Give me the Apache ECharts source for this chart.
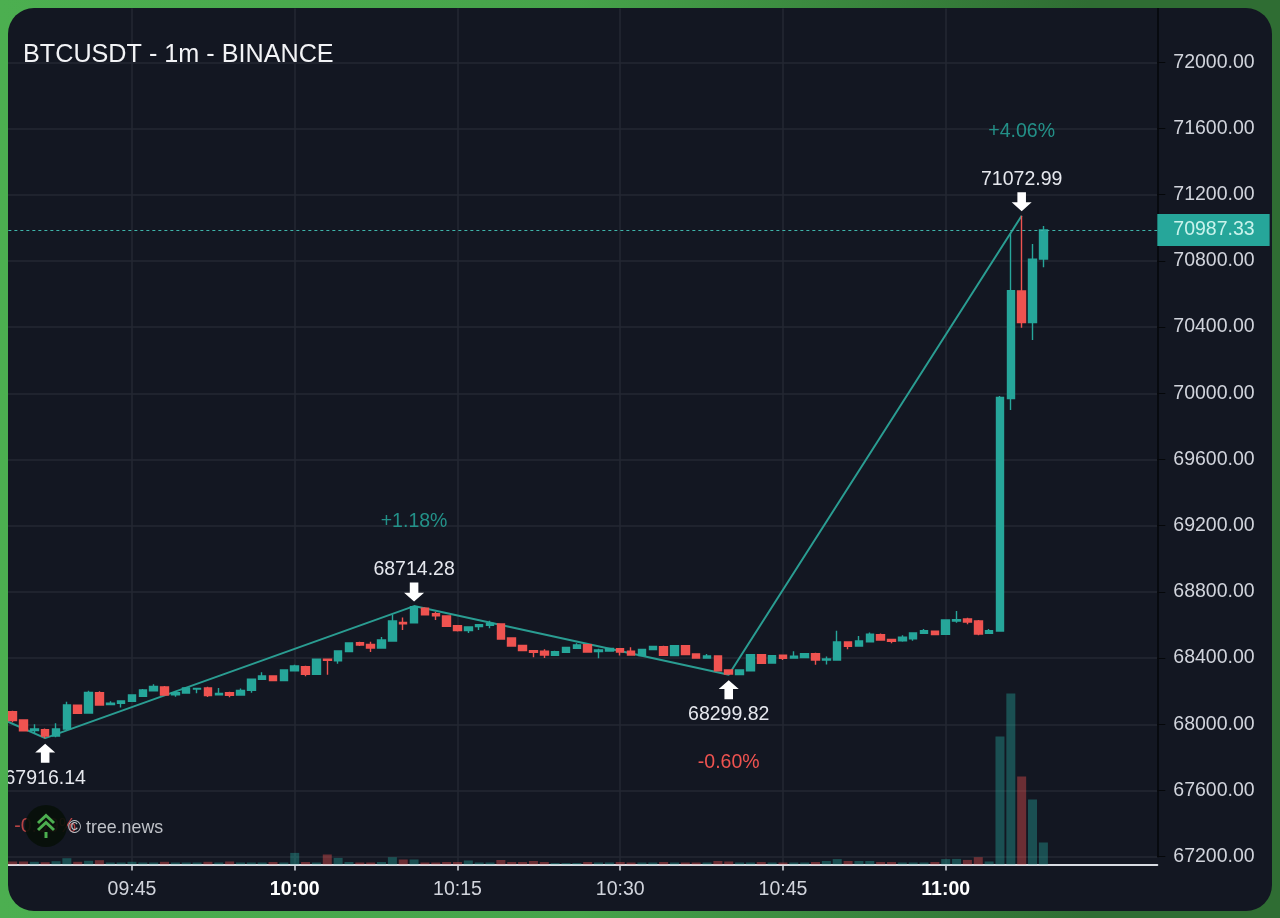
<!DOCTYPE html>
<html><head><meta charset="utf-8">
<style>
html,body{margin:0;padding:0;width:1280px;height:918px;overflow:hidden;background:linear-gradient(90deg,#4caf50 0%,#46a34a 45%,#2f6d33 85%,#2f6d33 100%);}
#card{position:absolute;left:7.5px;top:7.5px;width:1264.5px;height:903px;border-radius:26px;overflow:hidden;background:#131722;}
#main{position:absolute;left:-7.5px;top:-7.5px;width:1280px;height:918px;}
</style>
<script src="https://cdn.jsdelivr.net/npm/echarts@6/dist/echarts.min.js"></script>
</head><body>
<div id="card"><div id="main"></div></div>
<script>
const titleText = 'BTCUSDT - 1m - BINANCE';
const lastPrice = 70987.33;
const firstMinute = 9*60+33;
const lastGridMinute = 11*60;
const slotCount = 107;
const yMin = 67200, yMax = 72400, yStep = 400;

// 09:34 onward, one entry per minute
const opens = [68076,68026,67962,67968,67929,67972,68115,68068,68191,68119,68127,68139,68169,68203,68225,68179,68189,68213,68219,68179,68191,68177,68205,68272,68292,68264,68324,68348,68302,68393,68383,68439,68493,68483,68461,68503,68616,68614,
68701,68668,68654,68596,68566,68590,68598,68606,68521,68477,68445,68441,68417,68435,68459,68481,68439,68443,68457,68441,68415,68451,68469,68415,68475,68425,68401,68413,68328,68300,68324,68421,68370,68417,68401,68403,68427,68388,68388,68497,68473,68499,68542,68513,68505,68517,68550,68562,68544,68624,68636,68624,68550,68564,69969,70618,70427,70811];
const closes = [68022,67960,67972,67929,67972,68117,68066,68193,68117,68127,68141,68177,68207,68228,68177,68191,68219,68217,68173,68187,68175,68205,68272,68292,68264,68328,68352,68302,68393,68387,68443,68491,68479,68461,68509,68624,68608,68711,
68662,68656,68592,68566,68588,68602,68610,68515,68473,68445,68435,68419,68439,68465,68479,68437,68449,68459,68437,68419,68453,68471,68417,68475,68421,68401,68413,68324,68304,68328,68421,68368,68415,68399,68411,68427,68388,68395,68497,68471,68503,68544,68509,68501,68527,68552,68566,68542,68630,68632,68618,68546,68566,69975,70620,70427,70811,70987.33];
const lows = [68012,67956,67946,67916.14,67921,67966,68064,68066,68115,68115,68101,68135,68165,68201,68173,68167,68187,68187,68165,68177,68163,68175,68191,68270,68260,68262,68322,68290,68300,68300,68366,68437,68473,68437,68459,68501,68570,68612,
68658,68630,68590,68560,68552,68570,68580,68513,68471,68441,68405,68401,68415,68433,68457,68435,68399,68441,68415,68417,68413,68449,68415,68413,68417,68399,68399,68322,68299.82,68298,68322,68366,68368,68388,68397,68401,68360,68362,68386,68453,68471,68495,68507,68489,68499,68505,68548,68538,68542,68614,68604,68538,68548,68560,69899,70396,70322,70761];
const highs = [68082,68030,68000,67974,68006,68137,68117,68203,68199,68139,68143,68181,68213,68242,68232,68199,68225,68217,68227,68219,68197,68217,68274,68314,68296,68330,68360,68354,68395,68395,68447,68493,68499,68499,68528,68663,68646,68714.28,
68707,68680,68658,68600,68590,68604,68626,68610,68523,68479,68449,68453,68445,68469,68489,68485,68457,68461,68461,68465,68455,68473,68475,68477,68479,68429,68425,68415,68332,68330,68423,68425,68417,68421,68441,68429,68433,68409,68566,68501,68533,68554,68548,68515,68538,68556,68576,68564,68634,68685,68644,68630,68576,69983,70966,71072.99,70902,71011];
const volumes = [3,3,2.7,2.3,3.3,6.3,2.7,3.7,4.3,2,2,2.7,2,2,2.7,2,2,2,2.7,2,3,2,2,2,2.5,2,11.6,2.5,2,10,6.6,2.5,2,2,2.5,7.3,5,5,
2,2,2.5,2.5,4,2,2,4.5,2.5,2.5,3.5,2.5,1.5,1.5,1.5,2.5,2,2,2.5,2,2,2,2.5,2,2,2,2,3.5,3,2,2,2.5,2,2,2,2,2.5,3.5,5.4,3.5,3.5,3.5,2.5,2.5,2,2,2,2.5,5.4,5.6,4.6,7.3,3,128,171,88,65,22];

const pivotTimes = ['09:37','10:11','10:40','11:07'];
const pivotPrices = [67916.14,68714.28,68299.82,71072.99];
const pivotPct = ['-0.99%','+1.18%','-0.60%','+4.06%'];
const zigzagTimes = ['09:33','09:37','10:11','10:40','11:07'];
const zigzagPrices = [68032,67916.14,68714.28,68299.82,71072.99];

const UP = '#26a69a', DOWN = '#ef5350', GRID = '#252933', TXT = '#d1d4dc';
const FONT = '"Liberation Sans", Arial, sans-serif';

const pad = n => String(n).padStart(2,'0');
const categories = [];
for (let i = 0; i < slotCount; i++) { const m = firstMinute + i; categories.push(pad(Math.floor(m/60)) + ':' + pad(m%60)); }
const isQuarter = i => { const m = firstMinute + i; return m % 15 === 0 && m <= lastGridMinute; };

const candleData = [['-','-','-','-']].concat(opens.map((o,i)=>[o,closes[i],lows[i],highs[i]]));
const volumeData = ['-'].concat(volumes.map((v,i)=>({value:v,itemStyle:{color:closes[i]>=opens[i]?'rgba(38,166,154,0.4)':'rgba(239,83,80,0.4)'}})));

const ARROW = 'path://M4,0 H10 V8 H14 L7,15 L0,8 H4 Z';
const marks = [];
pivotTimes.forEach((t,i)=>{
  const up = i === 1 || i === 3;   // swing highs sit above the line
  const c = [t, pivotPrices[i]];
  marks.push({coord:c,symbol:ARROW,symbolSize:[20,19],symbolRotate:up?0:180,symbolOffset:[0,up?-14:15],itemStyle:{color:'#ffffff'},label:{show:false}});
  marks.push({coord:c,symbol:'circle',symbolSize:1,itemStyle:{color:'transparent'},
    label:{show:true,position:'inside',offset:[0,up?-36:40],formatter:pivotPrices[i].toFixed(2),color:'#e6e8ee',fontSize:19.5,fontFamily:FONT}});
  marks.push({coord:c,symbol:'circle',symbolSize:1,itemStyle:{color:'transparent'},
    label:{show:true,position:'inside',offset:[0,up?-84:88],formatter:pivotPct[i],color:up?'rgba(38,166,154,0.85)':(i===0?'rgba(239,83,80,0.75)':DOWN),fontSize:19.5,fontFamily:FONT}});
});

const chart = echarts.init(document.getElementById('main'),null,{renderer:'canvas'});
chart.setOption({
  animation:false,
  backgroundColor:'transparent',
  title:{text:titleText,left:23,top:43,padding:0,textStyle:{color:'#f2f3f6',fontSize:25.2,fontWeight:'normal',fontFamily:FONT}},
  grid:[
    {left:-3.65,width:1160.95,top:8.5,height:856,outerBoundsMode:'none',containLabel:false},
    {left:-3.65,width:1160.95,top:-3.9,height:860.6,outerBoundsMode:'none',containLabel:false}
  ],
  xAxis:[
    {type:'category',gridIndex:0,data:categories,boundaryGap:true,
     axisLine:{show:true,lineStyle:{color:'#d9dce3',width:2}},
     axisTick:{show:true,alignWithLabel:true,length:6,interval:(i)=>isQuarter(i),lineStyle:{color:'#d9dce3',width:1.5}},
     splitLine:{show:true,alignWithLabel:true,interval:(i)=>isQuarter(i),lineStyle:{color:GRID,width:1.5}},
     axisLabel:{show:true,margin:15,interval:(i)=>isQuarter(i),hideOverlap:false,
       formatter:(v)=>v.endsWith(':00')?'{b|'+v+'}':'{n|'+v+'}',
       rich:{b:{fontWeight:'bold',color:'#ffffff',fontSize:19.5,fontFamily:FONT},n:{color:TXT,fontSize:19.5,fontFamily:FONT}}}},
    {type:'category',gridIndex:1,data:categories,boundaryGap:true,show:false}
  ],
  yAxis:[
    {type:'value',gridIndex:0,min:0,max:856,show:false,splitLine:{show:false}},
    {type:'value',gridIndex:1,position:'right',min:yMin,max:yMax,interval:yStep,scale:true,
     axisLine:{show:true,onZero:false,lineStyle:{color:'#05070a',width:1.5}},
     axisTick:{show:true,length:8,lineStyle:{color:'#05070a',width:1}},
     splitLine:{show:true,lineStyle:{color:GRID,width:1.5}},
     axisLabel:{margin:16,color:TXT,fontSize:19.5,fontFamily:FONT,formatter:(v)=>v.toFixed(2)}}
  ],
  graphic:[
    {type:'circle',z:50,shape:{cx:46,cy:826,r:21},style:{fill:'rgba(8,16,10,0.92)'}},
    {type:'polyline',z:51,shape:{points:[[38,823],[46,815.5],[54,823]]},style:{stroke:'#4caf50',fill:'none',lineWidth:3}},
    {type:'polyline',z:51,shape:{points:[[38,830],[46,822.5],[54,830]]},style:{stroke:'#4caf50',fill:'none',lineWidth:3}},
    {type:'line',z:51,shape:{x1:46,y1:832,x2:46,y2:838},style:{stroke:'#4caf50',lineWidth:3}},
    {type:'text',z:52,style:{text:'© tree.news',x:68,y:819,fill:'#bfc2c8',fontSize:17.8,fontFamily:FONT}}
  ],
  series:[
    {name:'Volume',type:'bar',xAxisIndex:0,yAxisIndex:0,data:volumeData,barWidth:9,z:1,silent:true},
    {name:'Zigzag',type:'line',xAxisIndex:1,yAxisIndex:1,z:2,symbol:'none',clip:false,silent:true,
     data:zigzagTimes.map((t,i)=>[t,zigzagPrices[i]]),
     lineStyle:{color:'#2a9d92',width:2},
     markPoint:{silent:true,z:6,data:marks}},
    {name:'BTCUSDT',type:'candlestick',xAxisIndex:1,yAxisIndex:1,z:3,data:candleData,barWidth:8,
     itemStyle:{color:UP,color0:DOWN,borderColor:UP,borderColor0:DOWN,borderWidth:1.4},
     markLine:{silent:true,symbol:'none',z:4,
       lineStyle:{color:'#3fb5aa',type:[3,3],width:1},
       label:{show:true,position:'end',distance:0,formatter:()=>lastPrice.toFixed(2),
         backgroundColor:UP,color:'#c9f3ec',fontSize:19.5,fontFamily:FONT,padding:[6,15,6,16]},
       data:[{yAxis:lastPrice}]}}
  ]
});
</script>
</body></html>
